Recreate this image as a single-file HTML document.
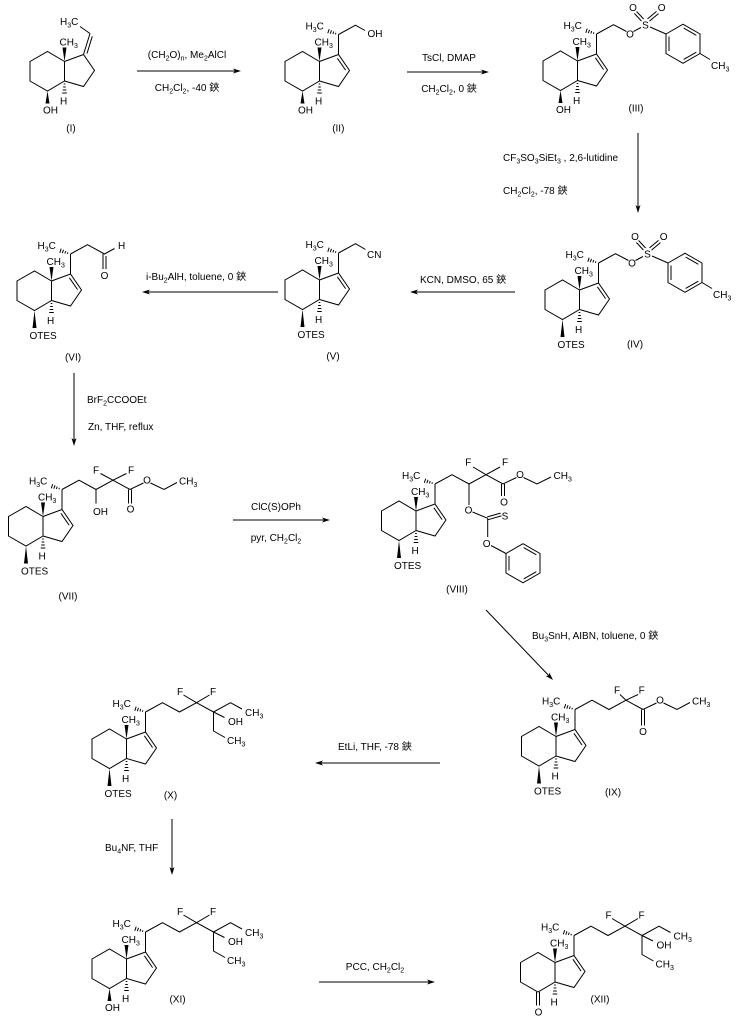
<!DOCTYPE html>
<html><head><meta charset="utf-8">
<style>
html,body{margin:0;padding:0;background:#fff}
svg{display:block}
text{font-family:"Liberation Sans","Noto Sans CJK SC",sans-serif;font-size:10px;fill:#000;stroke:none}
.s{font-size:7px}
.f{fill:#000;stroke:none}
.m{text-anchor:middle}
</style></head><body>
<svg width="739" height="1024" viewBox="0 0 739 1024" xmlns="http://www.w3.org/2000/svg">
<g fill="none" stroke="#000" stroke-width="1">

<!-- Arrows -->
<path d="M137,71H235M407,72H483M638,133V207M515,292H416M278,292H148M74,373V440M233,520H324M486,610L548.8,675.6M440,763H321M172,819V869M319,982H429"/>
<polygon class="f" points="241,71 233,68.5 235,71 233,73.5"/>
<polygon class="f" points="489,72 481,69.5 483,72 481,74.5"/>
<polygon class="f" points="638,213 635.5,205 638,207 640.5,205"/>
<polygon class="f" points="410,292 418,289.5 416,292 418,294.5"/>
<polygon class="f" points="142,292 150,289.5 148,292 150,294.5"/>
<polygon class="f" points="74,446 71.5,438 74,440 76.5,438"/>
<polygon class="f" points="330,520 322,517.5 324,520 322,522.5"/>
<polygon class="f" points="553,680 545.66,675.95 548.85,675.67 549.28,672.49"/>
<polygon class="f" points="315,763 323,760.5 321,763 323,765.5"/>
<polygon class="f" points="172,875 169.5,867 172,869 174.5,867"/>
<polygon class="f" points="435,982 427,979.5 429,982 427,984.5"/>

<!-- Reagent texts -->
<text class="m" x="187" y="58">(CH<tspan class="s" dy="2.5">2</tspan><tspan dy="-2.5">O)</tspan><tspan class="s" dy="2.5">n</tspan><tspan dy="-2.5">, Me</tspan><tspan class="s" dy="2.5">2</tspan><tspan dy="-2.5">AlCl</tspan></text>
<text class="m" x="187" y="91">CH<tspan class="s" dy="2.5">2</tspan><tspan dy="-2.5">Cl</tspan><tspan class="s" dy="2.5">2</tspan><tspan dy="-2.5">, -40 鋏</tspan></text>
<text class="m" x="449" y="61">TsCl, DMAP</text>
<text class="m" x="449" y="92">CH<tspan class="s" dy="2.5">2</tspan><tspan dy="-2.5">Cl</tspan><tspan class="s" dy="2.5">2</tspan><tspan dy="-2.5">, 0 鋏</tspan></text>
<text x="503" y="161">CF<tspan class="s" dy="2.5">3</tspan><tspan dy="-2.5">SO</tspan><tspan class="s" dy="2.5">3</tspan><tspan dy="-2.5">SiEt</tspan><tspan class="s" dy="2.5">3</tspan><tspan dy="-2.5"> , 2,6-lutidine</tspan></text>
<text x="503" y="194">CH<tspan class="s" dy="2.5">2</tspan><tspan dy="-2.5">Cl</tspan><tspan class="s" dy="2.5">2</tspan><tspan dy="-2.5">, -78 鋏</tspan></text>
<text x="420" y="283">KCN, DMSO, 65 鋏</text>
<text x="146" y="280">i-Bu<tspan class="s" dy="2.5">2</tspan><tspan dy="-2.5">AlH, toluene, 0 鋏</tspan></text>
<text x="87" y="403">BrF<tspan class="s" dy="2.5">2</tspan><tspan dy="-2.5">CCOOEt</tspan></text>
<text x="88" y="430">Zn, THF, reflux</text>
<text class="m" x="276" y="510">ClC(S)OPh</text>
<text class="m" x="276" y="541">pyr, CH<tspan class="s" dy="2.5">2</tspan><tspan dy="-2.5">Cl</tspan><tspan class="s" dy="2.5">2</tspan></text>
<text x="532" y="639">Bu<tspan class="s" dy="2.5">3</tspan><tspan dy="-2.5">SnH, AIBN, toluene, 0 鋏</tspan></text>
<text x="338" y="750">EtLi, THF, -78 鋏</text>
<text x="105" y="851">Bu<tspan class="s" dy="2.5">4</tspan><tspan dy="-2.5">NF, THF</tspan></text>
<text class="m" x="375" y="970">PCC, CH<tspan class="s" dy="2.5">2</tspan><tspan dy="-2.5">Cl</tspan><tspan class="s" dy="2.5">2</tspan></text>

<!-- Labels -->
<text class="m" x="71" y="131.5">(I)</text>
<text class="m" x="338.3" y="131.5">(II)</text>
<text class="m" x="636" y="111.5">(III)</text>
<text class="m" x="635" y="347.5">(IV)</text>
<text class="m" x="333" y="359.5">(V)</text>
<text class="m" x="73" y="360.5">(VI)</text>
<text class="m" x="68" y="599.5">(VII)</text>
<text class="m" x="457" y="592.5">(VIII)</text>
<text class="m" x="613" y="795.5">(IX)</text>
<text class="m" x="170.5" y="798.5">(X)</text>
<text class="m" x="177.5" y="1002.5">(XI)</text>
<text class="m" x="600" y="1002.5">(XII)</text>

<!-- Structure I -->
<g transform="translate(64.5,61.5)">
<path d="M0,0L-17,-10L-34.5,0L-34.5,19.5L-17,29.5L0,19.5ZM0,0L19,-7L30,9L19,25L0,19.5M19,-7L25.5,-28M22.5,-8L27.8,-25.2M25.5,-28L15.5,-35"/>
<text x="-4.5" y="-36.5">H<tspan class="s" dy="2.5">3</tspan><tspan dy="-2.5">C</tspan></text>
<polygon class="f" points="0,0 -2,-14 2,-14"/><text x="-5" y="-16">CH<tspan class="s" dy="2.5">3</tspan></text>
<path d="M-0.8,22.5h1.6M-1.3,25.5h2.6M-1.8,28.5h3.6M-2.3,31.5h4.6"/><text x="-4.5" y="43">H</text>
<polygon class="f" points="-17,29.5 -19,42 -15,42"/><text x="-21.5" y="52">OH</text>
</g>

<!-- Structure II -->
<g transform="translate(319.5,61.5)">
<path d="M0,0L-17,-10L-34.5,0L-34.5,19.5L-17,29.5L0,19.5ZM0,0L19,-7L30,9L19,25L0,19.5M17.9,-3.2L26.1,8.6M19,-7L19,-27"/>
<path d="M15.9,-27.2L16.4,-28.7M13.4,-27.5L14.2,-30M10.8,-27.8L12,-31.2M8.3,-28.2L9.7,-32.4"/>
<text x="-14" y="-32">H<tspan class="s" dy="2.5">3</tspan><tspan dy="-2.5">C</tspan></text>
<path d="M19,-27L36,-36.3L45.5,-31"/><text x="48" y="-24.5">OH</text>
<polygon class="f" points="0,0 -2,-14 2,-14"/><text x="-5" y="-16">CH<tspan class="s" dy="2.5">3</tspan></text>
<path d="M-0.8,22.5h1.6M-1.3,25.5h2.6M-1.8,28.5h3.6M-2.3,31.5h4.6"/><text x="-4.5" y="43">H</text>
<polygon class="f" points="-17,29.5 -19,42 -15,42"/><text x="-21.5" y="52">OH</text>
</g>

<!-- Structure III -->
<g transform="translate(577.5,61)">
<path d="M0,0L-17,-10L-34.5,0L-34.5,19.5L-17,29.5L0,19.5ZM0,0L19,-7L30,9L19,25L0,19.5M17.9,-3.2L26.1,8.6M19,-7L19,-27"/>
<path d="M15.9,-27.2L16.4,-28.7M13.4,-27.5L14.2,-30M10.8,-27.8L12,-31.2M8.3,-28.2L9.7,-32.4"/>
<text x="-14" y="-32">H<tspan class="s" dy="2.5">3</tspan><tspan dy="-2.5">C</tspan></text>
<path d="M19,-27L36,-36.3L49,-29.5M56,-29.5L63.5,-33.5M66.1,-42L59.1,-49.5M63.9,-40L56.9,-47.5M71.96,-39.85L80.96,-47.35M70.04,-42.15L79.04,-49.65M72.5,-34L88.5,-27"/>
<text class="m" x="52.5" y="-23.5">O</text><text class="m" x="68" y="-32.5">S</text>
<text class="m" x="55.5" y="-50">O</text><text class="m" x="84.2" y="-50">O</text>
<path d="M88.5,-27L105.5,-36.75L122.5,-27L122.5,-7.5L105.5,2.25L88.5,-7.5ZM91.5,-24.5L91.5,-10M106.17,-32.9L118.83,-25.65M118.83,-8.85L106.17,-1.6M122.5,-7.5L132.5,-1.5"/>
<text x="133.5" y="8">CH<tspan class="s" dy="2.5">3</tspan></text>
<polygon class="f" points="0,0 -2,-14 2,-14"/><text x="-5" y="-16">CH<tspan class="s" dy="2.5">3</tspan></text>
<path d="M-0.8,22.5h1.6M-1.3,25.5h2.6M-1.8,28.5h3.6M-2.3,31.5h4.6"/><text x="-4.5" y="43">H</text>
<polygon class="f" points="-17,29.5 -19,42 -15,42"/><text x="-21.5" y="52">OH</text>
</g>

<!-- Structure IV -->
<g transform="translate(579.5,290)">
<path d="M0,0L-17,-10L-34.5,0L-34.5,19.5L-17,29.5L0,19.5ZM0,0L19,-7L30,9L19,25L0,19.5M17.9,-3.2L26.1,8.6M19,-7L19,-27"/>
<path d="M15.9,-27.2L16.4,-28.7M13.4,-27.5L14.2,-30M10.8,-27.8L12,-31.2M8.3,-28.2L9.7,-32.4"/>
<text x="-14" y="-32">H<tspan class="s" dy="2.5">3</tspan><tspan dy="-2.5">C</tspan></text>
<path d="M19,-27L36,-36.3L49,-29.5M56,-29.5L63.5,-33.5M66.1,-42L59.1,-49.5M63.9,-40L56.9,-47.5M71.96,-39.85L80.96,-47.35M70.04,-42.15L79.04,-49.65M72.5,-34L88.5,-27"/>
<text class="m" x="52.5" y="-23.5">O</text><text class="m" x="68" y="-32.5">S</text>
<text class="m" x="55.5" y="-50">O</text><text class="m" x="84.2" y="-50">O</text>
<path d="M88.5,-27L105.5,-36.75L122.5,-27L122.5,-7.5L105.5,2.25L88.5,-7.5ZM91.5,-24.5L91.5,-10M106.17,-32.9L118.83,-25.65M118.83,-8.85L106.17,-1.6M122.5,-7.5L132.5,-1.5"/>
<text x="133.5" y="8">CH<tspan class="s" dy="2.5">3</tspan></text>
<polygon class="f" points="0,0 -2,-14 2,-14"/><text x="-5" y="-16">CH<tspan class="s" dy="2.5">3</tspan></text>
<path d="M-0.8,22.5h1.6M-1.3,25.5h2.6M-1.8,28.5h3.6M-2.3,31.5h4.6"/><text x="-4.5" y="43">H</text>
<polygon class="f" points="-17,29.5 -19,47 -15,47"/><text x="-22" y="58">OTES</text>
</g>

<!-- Structure V -->
<g transform="translate(319.5,280)">
<path d="M0,0L-17,-10L-34.5,0L-34.5,19.5L-17,29.5L0,19.5ZM0,0L19,-7L30,9L19,25L0,19.5M17.9,-3.2L26.1,8.6M19,-7L19,-27"/>
<path d="M15.9,-27.2L16.4,-28.7M13.4,-27.5L14.2,-30M10.8,-27.8L12,-31.2M8.3,-28.2L9.7,-32.4"/>
<text x="-14" y="-32">H<tspan class="s" dy="2.5">3</tspan><tspan dy="-2.5">C</tspan></text>
<path d="M19,-27L36,-36.3L46,-30.5"/><text x="47.5" y="-22">CN</text>
<polygon class="f" points="0,0 -2,-14 2,-14"/><text x="-5" y="-16">CH<tspan class="s" dy="2.5">3</tspan></text>
<path d="M-0.8,22.5h1.6M-1.3,25.5h2.6M-1.8,28.5h3.6M-2.3,31.5h4.6"/><text x="-4.5" y="43">H</text>
<polygon class="f" points="-17,29.5 -19,47 -15,47"/><text x="-22" y="58">OTES</text>
</g>

<!-- Structure VI -->
<g transform="translate(51.5,281)">
<path d="M0,0L-17,-10L-34.5,0L-34.5,19.5L-17,29.5L0,19.5ZM0,0L19,-7L30,9L19,25L0,19.5M17.9,-3.2L26.1,8.6M19,-7L19,-27"/>
<path d="M15.9,-27.2L16.4,-28.7M13.4,-27.5L14.2,-30M10.8,-27.8L12,-31.2M8.3,-28.2L9.7,-32.4"/>
<text x="-14" y="-32">H<tspan class="s" dy="2.5">3</tspan><tspan dy="-2.5">C</tspan></text>
<path d="M19,-27L36,-36.3L53,-27L63,-32.5M51.5,-27V-12M54.5,-25V-12"/>
<text x="66.5" y="-32">H</text><text class="m" x="53" y="-2">O</text>
<polygon class="f" points="0,0 -2,-14 2,-14"/><text x="-5" y="-16">CH<tspan class="s" dy="2.5">3</tspan></text>
<path d="M-0.8,22.5h1.6M-1.3,25.5h2.6M-1.8,28.5h3.6M-2.3,31.5h4.6"/><text x="-4.5" y="43">H</text>
<polygon class="f" points="-17,29.5 -19,47 -15,47"/><text x="-22" y="58">OTES</text>
</g>

<!-- Structure VII -->
<g transform="translate(43,516.5)">
<path d="M0,0L-17,-10L-34.5,0L-34.5,19.5L-17,29.5L0,19.5ZM0,0L19,-7L30,9L19,25L0,19.5M17.9,-3.2L26.1,8.6M19,-7L19,-27"/>
<path d="M15.9,-27.2L16.4,-28.7M13.4,-27.5L14.2,-30M10.8,-27.8L12,-31.2M8.3,-28.2L9.7,-32.4"/>
<text x="-14" y="-32">H<tspan class="s" dy="2.5">3</tspan><tspan dy="-2.5">C</tspan></text>
<path d="M19,-27L36,-36.3L53,-27L70,-36.3L87,-27L100.5,-33.5M107.5,-33.5L121,-27L134,-34M53,-27V-13M70,-36.3L57.5,-43M70,-36.3L83.5,-43M85.5,-27V-13M88.5,-27V-13"/>
<text x="50" y="-1.5">OH</text>
<text class="m" x="53" y="-43">F</text><text class="m" x="88" y="-43">F</text>
<text class="m" x="87.5" y="-4">O</text><text class="m" x="104" y="-33">O</text>
<text x="136" y="-32">CH<tspan class="s" dy="2.5">3</tspan></text>
<polygon class="f" points="0,0 -2,-14 2,-14"/><text x="-5" y="-16">CH<tspan class="s" dy="2.5">3</tspan></text>
<path d="M-0.8,22.5h1.6M-1.3,25.5h2.6M-1.8,28.5h3.6M-2.3,31.5h4.6"/><text x="-4.5" y="43">H</text>
<polygon class="f" points="-17,29.5 -19,47 -15,47"/><text x="-22" y="58">OTES</text>
</g>

<!-- Structure VIII -->
<g transform="translate(416,511)">
<path d="M0,0L-17,-10L-34.5,0L-34.5,19.5L-17,29.5L0,19.5ZM0,0L19,-7L30,9L19,25L0,19.5M17.9,-3.2L26.1,8.6M19,-7L19,-27"/>
<path d="M15.9,-27.2L16.4,-28.7M13.4,-27.5L14.2,-30M10.8,-27.8L12,-31.2M8.3,-28.2L9.7,-32.4"/>
<text x="-14" y="-32">H<tspan class="s" dy="2.5">3</tspan><tspan dy="-2.5">C</tspan></text>
<path d="M19,-27L36,-36.3L53,-27L70,-36.3L87,-27L100.5,-33.5M107.5,-33.5L121,-27L135,-34M70,-36.3L57,-44M70,-36.3L84,-44M85.5,-27V-15M88.5,-27V-15M53,-27V-6"/>
<text class="m" x="52.3" y="-45.5">F</text><text class="m" x="89" y="-45.5">F</text>
<text class="m" x="88" y="-5.5">O</text><text class="m" x="104" y="-33">O</text>
<text x="137.5" y="-32">CH<tspan class="s" dy="2.5">3</tspan></text>
<text class="m" x="52.5" y="2.5">O</text>
<path d="M56.5,1L71.7,7.3M72.1,8.7L85.4,4.9M71.3,5.9L84.6,2.1M71.7,7.3V26M75,34.5L90,42.5"/>
<text class="m" x="89" y="8.5">S</text><text class="m" x="70.7" y="36">O</text>
<path d="M90,42.5L107,32.75L124,42.5L124,62L107,71.75L90,62ZM93,45V59.5M107.67,36.6L120.33,43.85M120.33,60.65L107.67,67.9"/>
<polygon class="f" points="0,0 -2,-14 2,-14"/><text x="-5" y="-16">CH<tspan class="s" dy="2.5">3</tspan></text>
<path d="M-0.8,22.5h1.6M-1.3,25.5h2.6M-1.8,28.5h3.6M-2.3,31.5h4.6"/><text x="-4.5" y="43">H</text>
<polygon class="f" points="-17,29.5 -19,47 -15,47"/><text x="-22" y="58">OTES</text>
</g>

<!-- Structure IX -->
<g transform="translate(556,736.5)">
<path d="M0,0L-17,-10L-34.5,0L-34.5,19.5L-17,29.5L0,19.5ZM0,0L19,-7L30,9L19,25L0,19.5M17.9,-3.2L26.1,8.6M19,-7L19,-27"/>
<path d="M15.9,-27.2L16.4,-28.7M13.4,-27.5L14.2,-30M10.8,-27.8L12,-31.2M8.3,-28.2L9.7,-32.4"/>
<text x="-14" y="-32">H<tspan class="s" dy="2.5">3</tspan><tspan dy="-2.5">C</tspan></text>
<path d="M19,-27L36,-36.3L53,-27L70,-36.3L87,-27L100.5,-33.5M107.5,-33.5L121,-27L134,-34M70,-36.3L64,-42M70,-36.3L82,-42M85.5,-27V-11M88.5,-27V-11"/>
<text class="m" x="61" y="-43">F</text><text class="m" x="85.7" y="-43">F</text>
<text class="m" x="87" y="-1.5">O</text><text class="m" x="104" y="-33">O</text>
<text x="136" y="-32">CH<tspan class="s" dy="2.5">3</tspan></text>
<polygon class="f" points="0,0 -2,-14 2,-14"/><text x="-5" y="-16">CH<tspan class="s" dy="2.5">3</tspan></text>
<path d="M-0.8,22.5h1.6M-1.3,25.5h2.6M-1.8,28.5h3.6M-2.3,31.5h4.6"/><text x="-4.5" y="43">H</text>
<polygon class="f" points="-17,29.5 -19,47 -15,47"/><text x="-22" y="58">OTES</text>
</g>

<!-- Structure X -->
<g transform="translate(126.5,739)">
<path d="M0,0L-17,-10L-34.5,0L-34.5,19.5L-17,29.5L0,19.5ZM0,0L19,-7L30,9L19,25L0,19.5M17.9,-3.2L26.1,8.6M19,-7L19,-27"/>
<path d="M15.9,-27.2L16.4,-28.7M13.4,-27.5L14.2,-30M10.8,-27.8L12,-31.2M8.3,-28.2L9.7,-32.4"/>
<text x="-14" y="-32">H<tspan class="s" dy="2.5">3</tspan><tspan dy="-2.5">C</tspan></text>
<path d="M19,-27L36,-36.3L53,-27L70,-36.3L87,-27L104,-36.3L115.5,-30M87,-27L98,-21.5M87,-27V-8L98.5,-1.5M70,-36.3L57,-44M70,-36.3L83,-44"/>
<text class="m" x="53.5" y="-44">F</text><text class="m" x="86.5" y="-44">F</text>
<text x="118.5" y="-23">CH<tspan class="s" dy="2.5">3</tspan></text>
<text x="101.5" y="-14">OH</text>
<text x="100.5" y="5">CH<tspan class="s" dy="2.5">3</tspan></text>
<polygon class="f" points="0,0 -2,-14 2,-14"/><text x="-5" y="-16">CH<tspan class="s" dy="2.5">3</tspan></text>
<path d="M-0.8,22.5h1.6M-1.3,25.5h2.6M-1.8,28.5h3.6M-2.3,31.5h4.6"/><text x="-4.5" y="43">H</text>
<polygon class="f" points="-17,29.5 -19,47 -15,47"/><text x="-22" y="58">OTES</text>
</g>

<!-- Structure XI -->
<g transform="translate(126.5,959)">
<path d="M0,0L-17,-10L-34.5,0L-34.5,19.5L-17,29.5L0,19.5ZM0,0L19,-7L30,9L19,25L0,19.5M17.9,-3.2L26.1,8.6M19,-7L19,-27"/>
<path d="M15.9,-27.2L16.4,-28.7M13.4,-27.5L14.2,-30M10.8,-27.8L12,-31.2M8.3,-28.2L9.7,-32.4"/>
<text x="-14" y="-32">H<tspan class="s" dy="2.5">3</tspan><tspan dy="-2.5">C</tspan></text>
<path d="M19,-27L36,-36.3L53,-27L70,-36.3L87,-27L104,-36.3L115.5,-30M87,-27L98,-21.5M87,-27V-8L98.5,-1.5M70,-36.3L57,-44M70,-36.3L83,-44"/>
<text class="m" x="53.5" y="-44">F</text><text class="m" x="86.5" y="-44">F</text>
<text x="118.5" y="-23">CH<tspan class="s" dy="2.5">3</tspan></text>
<text x="101.5" y="-14">OH</text>
<text x="100.5" y="5">CH<tspan class="s" dy="2.5">3</tspan></text>
<polygon class="f" points="0,0 -2,-14 2,-14"/><text x="-5" y="-16">CH<tspan class="s" dy="2.5">3</tspan></text>
<path d="M-0.8,22.5h1.6M-1.3,25.5h2.6M-1.8,28.5h3.6M-2.3,31.5h4.6"/><text x="-4.5" y="43">H</text>
<polygon class="f" points="-17,29.5 -19,42 -15,42"/><text x="-21.5" y="52">OH</text>
</g>

<!-- Structure XII -->
<g transform="translate(555,962.5)">
<path d="M0,0L-17,-10L-34.5,0L-34.5,19.5L-17,29.5L0,19.5ZM0,0L19,-7L30,9L19,25L0,19.5M17.9,-3.2L26.1,8.6M19,-7L19,-27"/>
<path d="M15.9,-27.2L16.4,-28.7M13.4,-27.5L14.2,-30M10.8,-27.8L12,-31.2M8.3,-28.2L9.7,-32.4"/>
<text x="-14" y="-32">H<tspan class="s" dy="2.5">3</tspan><tspan dy="-2.5">C</tspan></text>
<path d="M19,-27L36,-36.3L53,-27L70,-36.3L87,-27L104,-36.3L115.5,-30M87,-27L98,-21.5M87,-27V-8L98.5,-1.5M70,-36.3L57,-44M70,-36.3L83,-44"/>
<text class="m" x="53.5" y="-44">F</text><text class="m" x="86.5" y="-44">F</text>
<text x="118.5" y="-23">CH<tspan class="s" dy="2.5">3</tspan></text>
<text x="101.5" y="-14">OH</text>
<text x="100.5" y="5">CH<tspan class="s" dy="2.5">3</tspan></text>
<polygon class="f" points="0,0 -2,-14 2,-14"/><text x="-5" y="-16">CH<tspan class="s" dy="2.5">3</tspan></text>
<path d="M-0.8,22.5h1.6M-1.3,25.5h2.6M-1.8,28.5h3.6M-2.3,31.5h4.6"/><text x="-4.5" y="43">H</text>
<path d="M-18.5,29.5V43M-15.5,29.5V43"/><text class="m" x="-16.5" y="53">O</text>
</g>

</g>
</svg>
</body></html>
